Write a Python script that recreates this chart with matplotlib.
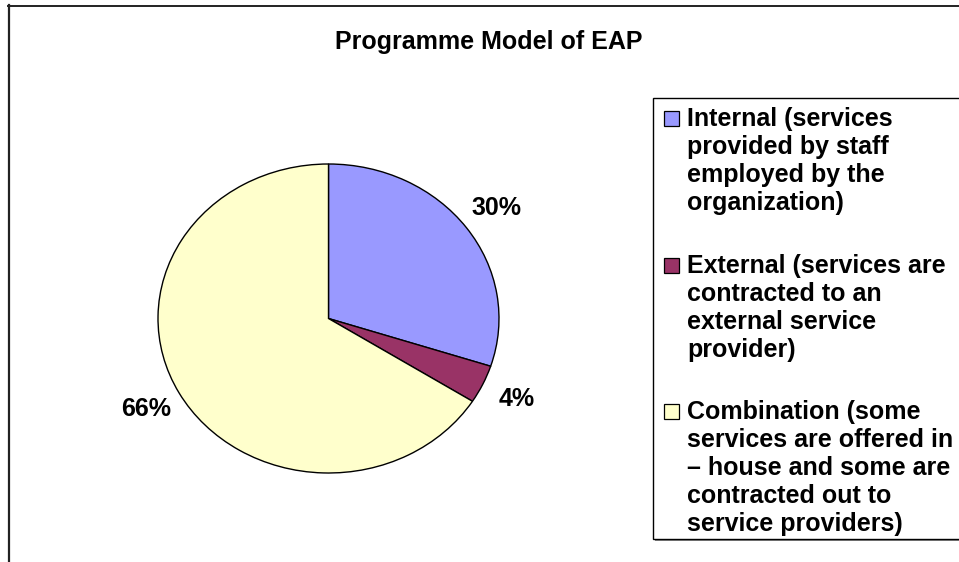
import matplotlib
matplotlib.use("Agg")
import matplotlib.pyplot as plt
from matplotlib.patches import Rectangle
from matplotlib.lines import Line2D

# Data
categories = ["Internal", "External", "Combination"]
shares = [30, 4, 66]
colors = ["#9999FF", "#993366", "#FFFFCC"]
legend_lines = [
    ["Internal (services", "provided by staff", "employed by the", "organization)"],
    ["External (services are", "contracted to an", "external service", "provider)"],
    ["Combination (some", "services are offered in", "\u2013 house and some are",
     "contracted out to", "service providers)"],
]
title = "Programme Model of EAP"

W, H = 959, 562
DPI = 100
fig = plt.figure(figsize=(W / DPI, H / DPI), dpi=DPI)
fig.patch.set_facecolor("white")

FONT = ["Liberation Sans", "DejaVu Sans"]
FS = 18


def fx(px):
    return px / W


def fy(py):
    return 1 - py / H


# Outer chart frame (runs off the right and bottom edges)
fig.add_artist(Line2D([fx(8), fx(970)], [fy(5.5), fy(5.5)], color="#222222", lw=1.4,
                      transform=fig.transFigure))
fig.add_artist(Line2D([fx(8.5), fx(8.5)], [fy(5), fy(570)], color="#222222", lw=1.6,
                      transform=fig.transFigure))

# Title
fig.text(fx(489), fy(49), title, ha="center", va="baseline", fontsize=FS,
         fontweight="bold", family=FONT, color="black")

# Pie
left, right, top, bottom = 158, 499, 164, 473
ax = fig.add_axes([fx(left), fy(bottom), fx(right - left), (bottom - top) / H])
wedges, texts, autotexts = ax.pie(
    shares, colors=colors, startangle=90, counterclock=False,
    autopct="%.0f%%", pctdistance=1.22,
    wedgeprops=dict(edgecolor="black", linewidth=1.0),
    textprops=dict(fontsize=FS, fontweight="bold", family=FONT, color="black"),
)
ax.set_aspect("auto")
ax.set_xlim(-1, 1)
ax.set_ylim(-1, 1)
ax.axis("off")
for t in autotexts:
    t.set_clip_on(False)

# Legend box
lx0, ly0, ly1 = 653, 98, 539
fig.add_artist(Rectangle((fx(lx0 + 2), fy(ly1 + 2)), fx(400), (ly1 - ly0) / H,
                         transform=fig.transFigure, facecolor="#888888",
                         edgecolor="none", zorder=1))
fig.add_artist(Rectangle((fx(lx0), fy(ly1)), fx(400), (ly1 - ly0) / H,
                         transform=fig.transFigure, facecolor="white",
                         edgecolor="black", linewidth=1.0, zorder=2))

first_baselines = [126, 273, 419]
line_step = 28
for lines, color, base in zip(legend_lines, colors, first_baselines):
    sq = 15
    cy = base - 8
    fig.add_artist(Rectangle((fx(664), fy(cy + sq / 2)), fx(sq), sq / H,
                             transform=fig.transFigure, facecolor=color,
                             edgecolor="black", linewidth=0.9, zorder=3))
    for i, line in enumerate(lines):
        fig.text(fx(687), fy(base + i * line_step), line, ha="left", va="baseline",
                 fontsize=FS, fontweight="bold", family=FONT, color="black", zorder=4)

fig.savefig("out.png", dpi=DPI, facecolor="white")
